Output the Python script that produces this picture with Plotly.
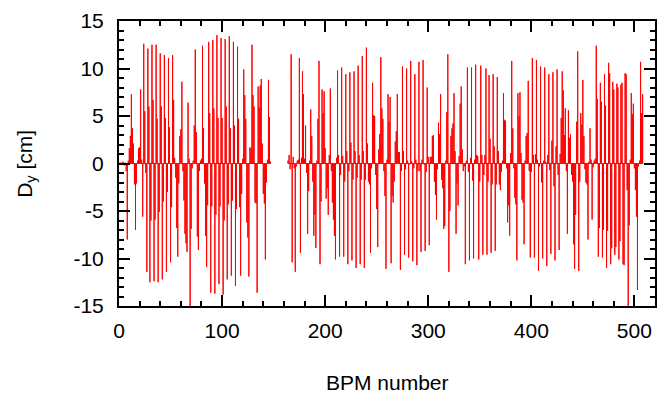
import plotly.graph_objects as go

# BPM dispersion D_y [cm]
start_a = 1
dy_a = [
    0.1, -0.1, 0.1, 0.2, -0.2, 0.1, -0.8, -8.0, 0.3, 1.6,
    2.9, 7.3, 3.7, 2.1, -2.2, -7.0, -2.1, 0.3, 1.6, 1.7,
    7.8, 0.4, -5.6, 12.6, 5.5, -1.0, -11.4, 12.1, 6.0, -12.5,
    -6.0, 12.5, 6.7, -12.4, -5.9, 12.5, 4.7, -12.5, -5.1, 11.6,
    6.0, -12.2, -4.0, 11.4, 4.8, -11.4, -3.0, 11.1, 3.8, -10.4,
    -4.6, 11.4, 6.7, 0.6, -1.5, -6.8, -9.8, -2.1, 2.9, 3.6,
    8.6, -0.8, -3.9, -7.4, -8.4, -9.3, 6.4, 0.5, -15.0, -6.9,
    -0.5, 0.3, 4.0, 12.0, 3.3, -7.7, -9.1, -0.8, 0.3, 0.5,
    12.4, 3.7, -2.1, -7.6, -10.9, -4.4, 12.8, 5.3, -13.6, -4.5,
    13.0, 5.8, -13.7, -5.4, 13.5, 4.8, -12.7, -4.5, 13.2, 4.8,
    -13.8, -6.0, 13.1, 6.0, -12.2, -4.3, 13.4, 3.7, -11.8, -3.9,
    12.8, 4.0, -12.9, -4.8, 12.3, 4.7, -4.6, -11.8, -3.2, 0.5,
    9.9, 7.2, 4.7, -6.2, -7.8, -11.9, 1.7, 1.6, 12.5, 7.2,
    6.0, -4.1, -4.2, -13.6, 8.1, 5.9, 8.2, 8.9, 2.1, -3.2,
    -4.2, -10.1, -2.0, 0.4, 8.8, 4.9, 0.2,
]

start_b = 164
dy_b = [
    0.3, 0.9, -0.6, 11.5, -10.4, 0.7, -0.5, -11.4, -0.3, 0.3,
    0.4, 11.1, -9.4, 0.6, 9.7, 7.3, 0.5, 4.0, -1.0, -7.4,
    -2.9, 0.3, 5.7, 2.9, -1.9, -7.6, -5.4, -8.9, 0.3, 4.7,
    10.8, -10.6, -4.0, 7.8, 5.3, 7.6, 1.6, -3.7, -2.6, -5.4,
    0.9, 7.9, -0.8, -4.1, -5.9, -7.6, -10.1, 0.6, 9.8, 0.9,
    -9.8, -1.2, 10.1, 0.8, -9.8, -1.9, 9.4, 1.3, -10.6, -0.8,
    9.6, 2.2, -10.2, -1.7, 9.7, 1.3, -11.0, -1.5, 10.3, 0.9,
    -10.6, -1.7, 11.3, 1.3, -11.0, -1.7, 12.2, 2.1, -1.9, -2.2,
    -9.4, -0.5, 8.5, 5.1, 5.0, -1.2, -4.8, -8.8, 1.5, 3.1,
    11.2, 5.8, 4.7, -0.8, -3.4, -11.1, 0.4, 7.3, 4.4, 7.0,
    -10.5, -3.4, -4.1, -1.9, 2.3, 3.4, 7.3, 1.2, 1.2, -11.2,
    -0.8, 10.2, 1.3, -9.6, -0.6, 10.0, 0.3, -9.9, -0.1, 10.8,
    0.2, -10.3, -0.5, 9.4, 0.4, -10.7, -0.8, 10.7, -0.8, -9.3,
    0.4, 10.9, -0.1, -9.2, -0.9, 8.0, 0.7, -8.6, 0.7, 0.7,
    2.9, 3.0, -1.9, -3.3, -5.9, -0.6, 4.3, 3.1, 7.3, -1.7,
    -2.6, -6.9, -6.6, 0.3, 5.4, 11.5, -11.4, -5.0, 2.9, 3.7,
    4.2, 7.4, 1.3, -7.4, -2.1, -4.4, 0.8, 6.3, 8.1, 1.5,
    -0.8, -0.3, -10.6, 0.3, 10.1, -0.9, -10.2, 0.6, 10.1, -1.8,
    -10.0, 0.4, 10.4, 0.9, 0.8, -10.1, -1.9, 10.3, 0.9, -9.6,
    -1.2, 0.9, 10.0, -9.6, -1.9, 9.3, 2.6, -9.4, -2.2, 9.4,
    1.8, -9.2, -2.2, 9.1, 1.3, -2.2, -2.8, -0.9, 0.3, 7.4,
    4.6, 4.5, -0.5, -6.2, -4.4, -7.6, 1.1, 10.8, 3.7, -0.5,
    -3.6, -4.3, -10.2, 7.4, 5.0, 7.5, 1.1, -3.8, -4.1, -8.5,
    0.3, 2.9, 3.2, 8.7, -0.8, -9.9, -0.9, 11.1, 0.9, -9.9,
    1.0, 10.9, 0.4, -11.3, -0.3, 10.2, -2.0, -10.0, 0.3, 10.1,
    0.2, -10.8, 0.9, 9.4, -0.7, -9.5, 2.4, 9.6, -2.4, -10.2,
    1.8, 9.9, -1.2, -9.1, 1.0, 4.8, 9.7, 7.7, 3.0, 5.8,
    -0.8, -7.4, 5.6, 2.7, 3.1, -1.2, -1.9, -8.5, -11.1, -5.4,
    4.4, 11.8, -11.3, -1.9, 5.3, 4.1, 8.8, 2.9, -0.6, -2.0,
    -2.2, -8.0, 0.2, 3.7, 0.4, -5.9, -0.4, 0.3, 0.5, 12.4,
    6.8, -9.8, -6.8, 8.5, 6.5, -9.9, -7.0, 9.4, 6.1, -11.0,
    -7.1, 10.6, 9.5, -10.6, -8.9, 8.6, 7.8, -9.6, -8.8, 8.4,
    8.0, -10.1, -8.2, 8.3, 8.5, -10.6, -10.7, 9.5, 9.4, -2.8,
    -15.0, -6.5, 0.4, 7.4, 5.2, 6.3, -0.5, -2.8, -5.6, -13.3,
    -0.3, 0.3, 10.7, 5.3, 7.3,
]

y_ticks = [-15, -10, -5, 0, 5, 10, 15]
y_tick_text = ["-15", "-10", "-5", "0", "5", "10", "15"]
x_ticks = [0, 100, 200, 300, 400, 500]
x_tick_text = ["0", "100", "200", "300", "400", "500"]

# impulse path: each BPM drawn as a vertical stroke from 0, joined along 0
xs, ys = [], []
for start, vals in ((start_a, dy_a), (start_b, dy_b)):
    for i, v in enumerate(vals):
        b = start + i
        xs += [b, b, b]
        ys += [0, v, 0]
    xs.append(None)
    ys.append(None)

FONT = "Liberation Sans, Arial, Helvetica, sans-serif"
FS = 21

fig = go.Figure()
fig.add_trace(go.Scatter(x=xs, y=ys, mode="lines",
                         line=dict(color="#ff0000", width=1),
                         hoverinfo="skip", showlegend=False))

axis_common = dict(
    showgrid=False, zeroline=False, showline=True, linecolor="black",
    linewidth=2, mirror="allticks", ticks="inside", ticklen=11,
    tickwidth=1.5, tickcolor="black",
    tickfont=dict(family=FONT, size=FS, color="black"),
)

fig.update_layout(
    width=659, height=395,
    margin=dict(l=119, r=2, t=21, b=89),
    paper_bgcolor="white", plot_bgcolor="white",
    font=dict(family=FONT, size=FS, color="black"),
    xaxis=dict(range=[0, 520], tickmode="array", tickvals=x_ticks,
               ticktext=x_tick_text, ticklabelstandoff=5,
               minor=dict(tickmode="linear", tick0=0, dtick=20, ticklen=5,
                          tickwidth=1.5, ticks="inside", tickcolor="black"),
               **axis_common),
    yaxis=dict(range=[-15, 15], tickmode="array", tickvals=y_ticks,
               ticktext=y_tick_text, ticklabelstandoff=9,
               minor=dict(tickmode="linear", tick0=0, dtick=1, ticklen=5,
                          tickwidth=1.5, ticks="inside", tickcolor="black"),
               **axis_common),
    annotations=[
        dict(text="BPM number", xref="paper", yref="paper",
             x=0.5, y=-0.270, xanchor="center", yanchor="middle",
             showarrow=False, font=dict(family=FONT, size=FS)),
        dict(text="D<sub>y</sub> [cm]", xref="paper", yref="paper",
             x=-0.1747, y=0.5, xanchor="center", yanchor="middle",
             textangle=-90, showarrow=False, font=dict(family=FONT, size=FS)),
    ],
)

fig.write_html("out.html")
